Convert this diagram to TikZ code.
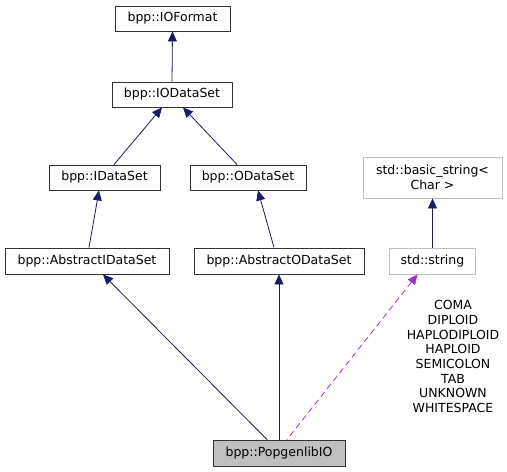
\documentclass[tikz,border=0pt]{standalone}
\usepackage{fontspec}
\setmainfont{DejaVu Sans}
\usetikzlibrary{arrows.meta,calc}
\definecolor{edgeblue}{HTML}{191970}
\definecolor{edgepurple}{HTML}{9A32CD}
\definecolor{lightborder}{HTML}{BFBFBF}
\tikzset{
  cls/.style={draw=black!80, line width=0.9pt, inner sep=0pt, font=\fontsize{12.5}{14.7}\selectfont, align=center},
  ext/.style={cls, draw=lightborder},
  cur/.style={cls, fill=lightborder},
  inh/.style={draw=edgeblue, line width=0.8pt, {Triangle[length=10pt,width=9pt]}-},
  use/.style={draw=edgepurple, line width=0.8pt, dash pattern=on 6pt off 4pt, {Triangle[length=10pt,width=9pt]}-},
  lbl/.style={font=\fontsize{12.5}{14.7}\selectfont, align=center, inner sep=0pt}
}
\begin{document}
\begin{tikzpicture}[x=1pt,y=-1pt]
\useasboundingbox (0,0) rectangle (507,472);
\node[cls, minimum width=115pt, minimum height=25pt] (iof) at (172.5,18.5) {bpp::IOFormat};
\node[cls, minimum width=120pt, minimum height=25pt] (iod) at (172,94.5) {bpp::IODataSet};
\node[cls, minimum width=111pt, minimum height=25pt] (ids) at (104.5,177.5) {bpp::IDataSet};
\node[cls, minimum width=116pt, minimum height=25pt] (ods) at (248,177.5) {bpp::ODataSet};
\node[ext, minimum width=139pt, minimum height=41pt] (bstr) at (432.5,177.5) {std::basic\_string<\\Char >};
\node[cls, minimum width=164pt, minimum height=26pt] (aids) at (87,261) {bpp::AbstractIDataSet};
\node[cls, minimum width=170pt, minimum height=26pt] (aods) at (279,261) {bpp::AbstractODataSet};
\node[ext, minimum width=86pt, minimum height=26pt] (str) at (432.5,261) {std::string};
\node[cur, minimum width=132pt, minimum height=26pt] (pop) at (279,453) {bpp::PopgenlibIO};
\node[lbl] (vals) at (453,356.5) {COMA\\DIPLOID\\HAPLODIPLOID\\HAPLOID\\SEMICOLON\\TAB\\UNKNOWN\\WHITESPACE};

\draw[inh] (iof.south) -- (iod.north);
\draw[inh] ($(iod.south)+(-10,0)$) -- ($(ids.north)+(9.5,0)$);
\draw[inh] ($(iod.south)+(11,0)$) -- ($(ods.north)+(-11,0)$);
\draw[inh] ($(ids.south)+(-5.5,0)$) -- ($(aids.north)+(2,0)$);
\draw[inh] ($(ods.south)+(10,0)$) -- ($(aods.north)+(-5,0)$);
\draw[inh] (bstr.south) -- (str.north);
\draw[inh] ($(aids.south)+(16,0)$) -- ($(pop.north)+(-12,0)$);
\draw[inh] (aods.south) -- (pop.north);
\draw[use] ($(str.south)+(-15,0)$) -- ($(pop.north)+(8,0)$);
\end{tikzpicture}
\end{document}
